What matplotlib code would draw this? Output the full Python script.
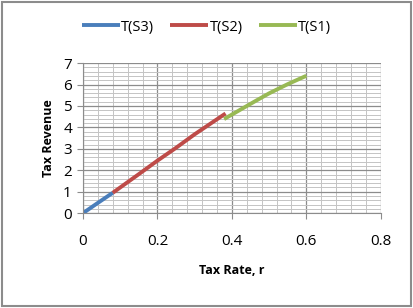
import matplotlib
matplotlib.use("Agg")
import matplotlib.pyplot as plt
from matplotlib.ticker import MultipleLocator
from matplotlib.patches import Rectangle

plt.rcParams['font.family'] = ['Open Sans', 'DejaVu Sans']

s3_x = [0.0, 0.04, 0.08]
s3_y = [0.0, 0.48, 0.95]
s2_x = [0.08, 0.15, 0.20, 0.25, 0.30, 0.383]
s2_y = [0.95, 1.82, 2.45, 3.05, 3.68, 4.65]
s1_x = [0.379, 0.42, 0.46, 0.50, 0.55, 0.60]
s1_y = [4.39, 4.80, 5.20, 5.59, 6.02, 6.41]

fig = plt.figure(figsize=(4.13, 3.08), dpi=100)
ax = fig.add_axes([0.201, 0.308, 0.721, 0.487])

ax.plot(s3_x, s3_y, color='#4a7ebb', lw=2.8, label='T(S3)', solid_capstyle='butt')
ax.plot(s2_x, s2_y, color='#be4b48', lw=2.8, label='T(S2)', solid_capstyle='butt')
ax.plot(s1_x, s1_y, color='#98b954', lw=2.8, label='T(S1)', solid_capstyle='butt')

ax.set_xlim(0, 0.8)
ax.set_ylim(0, 7)
ax.xaxis.set_minor_locator(MultipleLocator(0.04))
ax.yaxis.set_major_locator(MultipleLocator(1))
ax.yaxis.set_minor_locator(MultipleLocator(0.2))
ax.set_xticks([0, 0.2, 0.4, 0.6, 0.8])
ax.set_xticklabels(['0', '0.2', '0.4', '0.6', '0.8'])

ax.grid(which='major', color='#8c8c8c', lw=0.9)
ax.grid(which='minor', color='#c4c4c4', lw=0.7)
ax.set_axisbelow(True)
for s in ['top', 'right']:
    ax.spines[s].set_visible(False)
ax.spines['left'].set_color('#8c8c8c')
ax.spines['bottom'].set_color('#8c8c8c')
ax.tick_params(which='major', length=4, color='#8c8c8c', labelsize=11, pad=4)
ax.tick_params(axis='x', which='major', pad=11)
ax.tick_params(which='minor', length=0)

ax.set_xlabel('Tax Rate, r', fontsize=9, fontweight='bold', labelpad=11)
ax.set_ylabel('Tax Revenue', fontsize=9, fontweight='bold', labelpad=6)

ax.legend(loc='center', bbox_to_anchor=(0.5, 0.912), bbox_transform=fig.transFigure,
          ncol=3, frameon=False, fontsize=10.5, handlelength=2.6, handletextpad=0.1,
          columnspacing=1.1)

fig.patches.append(Rectangle((0.004, 0.006), 0.99, 0.988, transform=fig.transFigure,
                             fill=False, edgecolor='#8c8c8c', lw=1.5))

fig.savefig('out.png', dpi=100)
